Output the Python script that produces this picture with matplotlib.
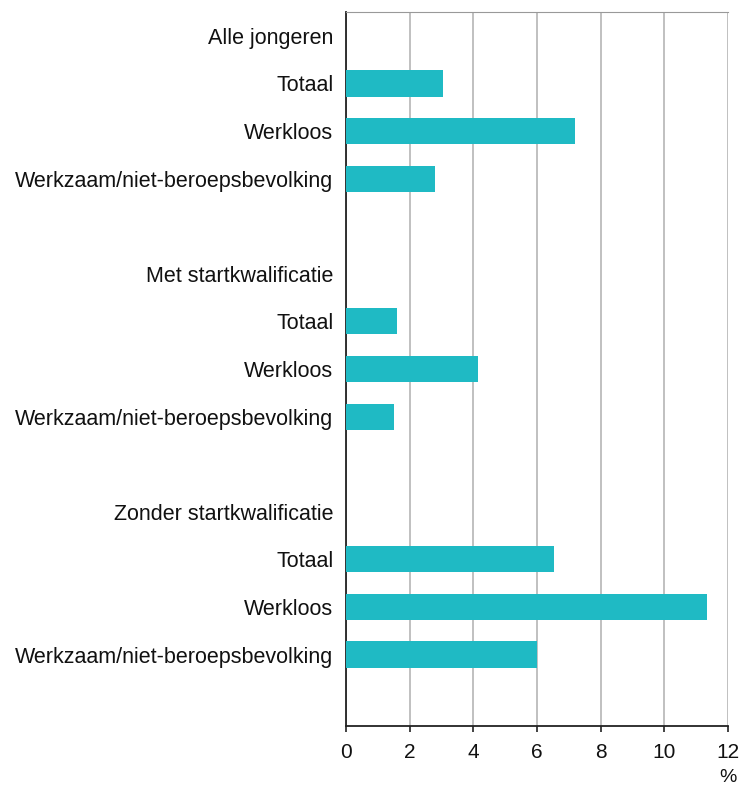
import matplotlib
matplotlib.use("Agg")
import matplotlib.pyplot as plt

# rows from top to bottom; None = header row (no bar)
labels = [
    "Alle jongeren", "Totaal", "Werkloos", "Werkzaam/niet-beroepsbevolking", "",
    "Met startkwalificatie", "Totaal", "Werkloos", "Werkzaam/niet-beroepsbevolking", "",
    "Zonder startkwalificatie", "Totaal", "Werkloos", "Werkzaam/niet-beroepsbevolking", "",
]
values = [
    None, 3.05, 7.2, 2.8, None,
    None, 1.6, 4.15, 1.5, None,
    None, 6.55, 11.35, 6.0, None,
]
xticks = [0, 2, 4, 6, 8, 10, 12]

plt.rcParams["font.family"] = ["Liberation Sans", "DejaVu Sans"]
FS = 15.5

fig = plt.figure(figsize=(7.42, 7.91), dpi=100)
ax = fig.add_axes([0.4663, 0.0822, 0.5148, 0.9026])

ys = list(range(len(labels)))
for y, v in zip(ys, values):
    if v is not None:
        ax.barh(y, v, height=0.55, color="#1FBAC4", zorder=3)

ax.set_ylim(len(labels) - 0.5, -0.5)
ax.set_xlim(0, 12)
ax.set_yticks(ys)
ax.set_yticklabels(labels, fontsize=FS, color="#111111")
ax.tick_params(axis="y", length=0, pad=9)
ax.set_xticks(xticks)
ax.set_xticklabels([str(t) for t in xticks], fontsize=FS - 0.5, color="#111111")
ax.tick_params(axis="x", length=4, width=1.2, pad=8, color="#222222")

ax.grid(axis="x", color="#BBBBBB", lw=1.3, zorder=0)
ax.spines["top"].set_color("#999999")
ax.spines["right"].set_visible(False)
ax.spines["left"].set_color("#222222")
ax.spines["left"].set_linewidth(1.3)
ax.spines["bottom"].set_color("#222222")
ax.spines["bottom"].set_linewidth(1.3)

ax.text(12, -0.06, "%", transform=ax.get_xaxis_transform(),
        ha="center", va="top", fontsize=FS - 1.5, color="#111111")

fig.savefig("out.png", dpi=100)
